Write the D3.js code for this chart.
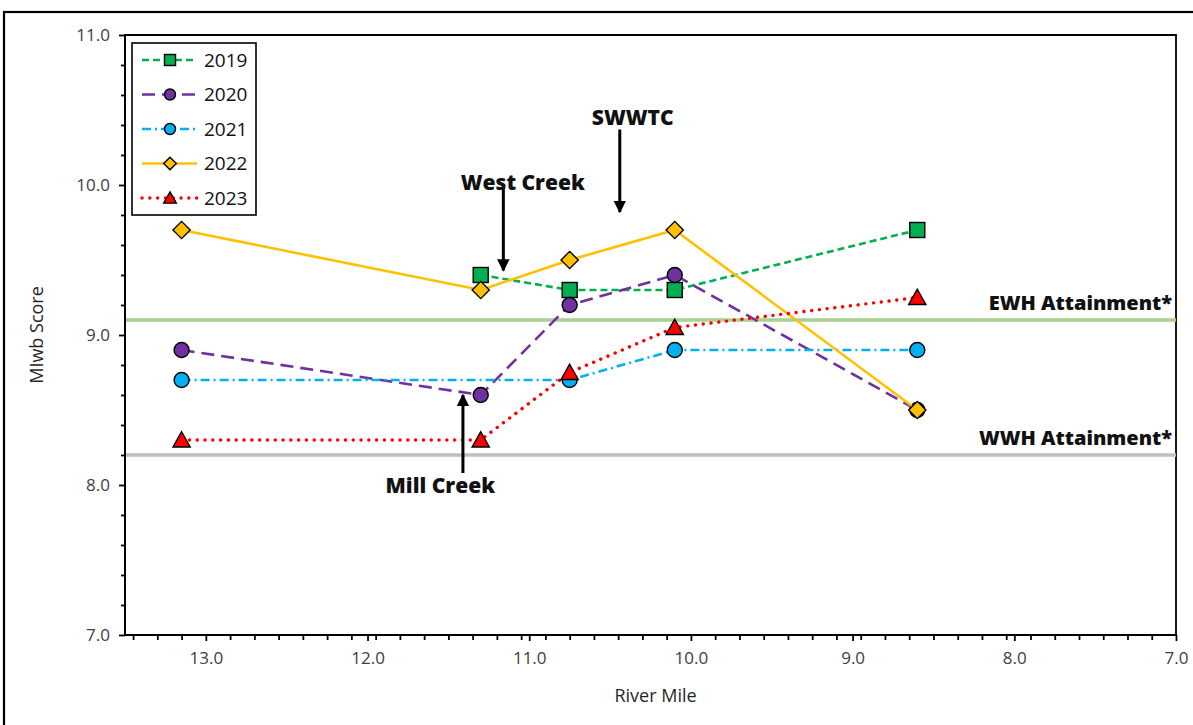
<!DOCTYPE html>
<html>
<head>
<meta charset="utf-8">
<script src="https://cdn.jsdelivr.net/npm/d3@7"></script>
<style>
  html, body { margin: 0; padding: 0; background: #fff; }
  svg { display: block; }
</style>
</head>
<body>
<svg id="chart" width="1193" height="725"></svg>
<script>
// Sampling locations (river mile) and MIwb scores by year
const riverMiles = [13.15, 11.3, 10.75, 10.1, 8.6];
const years = ["2019", "2020", "2021", "2022", "2023"];
const score2019 = [null, 9.4, 9.3, 9.3, 9.7];
const score2020 = [8.9, 8.6, 9.2, 9.4, 8.5];
const score2021 = [8.7, null, 8.7, 8.9, 8.9];
const score2022 = [9.7, 9.3, 9.5, 9.7, 8.5];
const score2023 = [8.3, 8.3, 8.75, 9.05, 9.25];

// Axis ticks
const xTickValues = [13, 12, 11, 10, 9, 8, 7];
const yTickValues = [7, 8, 9, 10, 11];

// Attainment thresholds
const thresholdNames = ["EWH Attainment*", "WWH Attainment*"];
const thresholdValues = [9.1, 8.2];

// Site annotations: label, arrow river mile, arrow start/end scores
const siteNames = ["West Creek", "SWWTC", "Mill Creek"];
const siteMiles = [11.16, 10.44, 11.41];
const siteArrowFrom = [9.99, 10.37, 8.08];
const siteArrowTo = [9.43, 9.82, 8.6];
const siteLabelMiles = [11.04, 10.36, 11.55];
const siteLabelScores = [9.97, 10.4, 7.95];

const seriesScores = [score2019, score2020, score2021, score2022, score2023];

const style = {
  "2019": { color: "#00b050", dash: "7 4", width: 2.6, cap: "butt", marker: "square" },
  "2020": { color: "#7030a0", dash: "13 7", width: 2.6, cap: "butt", marker: "circle" },
  "2021": { color: "#00b0f0", dash: "9 4 2 4", width: 2.6, cap: "butt", marker: "circle" },
  "2022": { color: "#ffc000", dash: null, width: 2.6, cap: "butt", marker: "diamond" },
  "2023": { color: "#ff0000", dash: "0.1 7.7", width: 3.4, cap: "round", marker: "triangle" }
};

const svg = d3.select("#chart");
const tickFont = "'Open Sans', 'Noto Sans', sans-serif";

// outer frame
svg.append("rect")
  .attr("x", 4).attr("y", 12)
  .attr("width", 1200).attr("height", 730)
  .attr("fill", "#fff").attr("stroke", "#000").attr("stroke-width", 2.2);

const plot = { left: 125, top: 35, right: 1176, bottom: 635 };

const x = d3.scaleLinear().domain([13.5, 7]).range([plot.left, plot.right]);
const y = d3.scaleLinear().domain([7, 11]).range([plot.bottom, plot.top]);

// plot area border (top & right)
svg.append("path")
  .attr("d", `M${plot.left},${plot.top}H${plot.right}V${plot.bottom}`)
  .attr("fill", "none").attr("stroke", "#000").attr("stroke-width", 1.8);

// threshold lines
const thrColors = ["#a9d08e", "#bfbfbf"];
thresholdValues.forEach((v, i) => {
  svg.append("line")
    .attr("x1", plot.left).attr("x2", plot.right)
    .attr("y1", y(v)).attr("y2", y(v))
    .attr("stroke", thrColors[i]).attr("stroke-width", 3.5);
  svg.append("text")
    .attr("x", plot.right - 4).attr("y", y(v) - 10)
    .attr("text-anchor", "end")
    .attr("font-family", tickFont).attr("font-weight", 800)
    .attr("font-size", 20).attr("fill", "#111")
    .text(thresholdNames[i]);
});

// x axis with minor ticks every 0.15
const xMinor = d3.range(0, 44).map(k => 7 + 0.15 * k).filter(v => !xTickValues.some(t => Math.abs(t - v) < 1e-6));
const xAxisG = svg.append("g").attr("transform", `translate(0,${plot.bottom})`);
xAxisG.call(d3.axisBottom(x).tickValues(xMinor).tickSize(5).tickFormat(""))
  .call(g => g.select(".domain").remove());
const xMajorG = svg.append("g").attr("transform", `translate(0,${plot.bottom})`);
xMajorG.call(d3.axisBottom(x).tickValues(xTickValues).tickSize(6).tickPadding(11).tickFormat(d3.format(".1f")))
  .call(g => g.select(".domain").remove());
[xAxisG, xMajorG].forEach(g => g.selectAll("line").attr("stroke", "#000").attr("stroke-width", 1.8));
xMajorG.selectAll("text").attr("font-family", tickFont).attr("font-size", 17).attr("fill", "#404040");
svg.append("line")
  .attr("x1", plot.left - 1).attr("x2", plot.right + 1)
  .attr("y1", plot.bottom).attr("y2", plot.bottom)
  .attr("stroke", "#000").attr("stroke-width", 2);

// y axis with minor ticks every 0.2
const yMinor = d3.range(0, 21).map(k => 7 + 0.2 * k).filter(v => !yTickValues.some(t => Math.abs(t - v) < 1e-6));
const yMinorG = svg.append("g").attr("transform", `translate(${plot.left},0)`);
yMinorG.call(d3.axisLeft(y).tickValues(yMinor).tickSize(4).tickFormat(""))
  .call(g => g.select(".domain").remove());
const yMajorG = svg.append("g").attr("transform", `translate(${plot.left},0)`);
yMajorG.call(d3.axisLeft(y).tickValues(yTickValues).tickSize(6).tickPadding(9).tickFormat(d3.format(".1f")))
  .call(g => g.select(".domain").remove());
[yMinorG, yMajorG].forEach(g => g.selectAll("line").attr("stroke", "#000").attr("stroke-width", 1.8));
yMajorG.selectAll("text").attr("font-family", tickFont).attr("font-size", 17).attr("fill", "#404040");
svg.append("line")
  .attr("x1", plot.left).attr("x2", plot.left)
  .attr("y1", plot.top - 1).attr("y2", plot.bottom + 1)
  .attr("stroke", "#000").attr("stroke-width", 2);

// axis titles
svg.append("text")
  .attr("x", (plot.left + plot.right) / 2 + 5).attr("y", 702)
  .attr("text-anchor", "middle")
  .attr("font-family", tickFont).attr("font-size", 18).attr("fill", "#262626")
  .text("River Mile");
svg.append("text")
  .attr("transform", `translate(43,${(plot.top + plot.bottom) / 2}) rotate(-90)`)
  .attr("text-anchor", "middle")
  .attr("font-family", tickFont).attr("font-size", 18).attr("fill", "#262626")
  .text("MIwb Score");

// marker drawing
function drawMarker(g, type, cx, cy, color, s) {
  if (type === "square") {
    g.append("rect").attr("x", cx - s).attr("y", cy - s)
      .attr("width", 2 * s).attr("height", 2 * s)
      .attr("fill", color).attr("stroke", "#000").attr("stroke-width", 1.4);
  } else if (type === "circle") {
    g.append("circle").attr("cx", cx).attr("cy", cy).attr("r", s)
      .attr("fill", color).attr("stroke", "#000").attr("stroke-width", 1.4);
  } else if (type === "diamond") {
    const d = s * 1.15;
    g.append("path").attr("d", `M${cx},${cy - d}L${cx + d},${cy}L${cx},${cy + d}L${cx - d},${cy}Z`)
      .attr("fill", color).attr("stroke", "#000").attr("stroke-width", 1.4);
  } else if (type === "triangle") {
    const h = s * 1.1;
    g.append("path").attr("d", `M${cx},${cy - h}L${cx + s * 1.15},${cy + h * 0.85}L${cx - s * 1.15},${cy + h * 0.85}Z`)
      .attr("fill", color).attr("stroke", "#000").attr("stroke-width", 1.4)
      .attr("stroke-linejoin", "miter");
  }
}

// series
const line = d3.line()
  .defined(d => d.v !== null)
  .x(d => x(d.m)).y(d => y(d.v));

years.forEach((yr, i) => {
  const st = style[yr];
  const pts = riverMiles.map((m, j) => ({ m, v: seriesScores[i][j] })).filter(d => d.v !== null);
  const g = svg.append("g").attr("class", "series-" + yr);
  g.append("path")
    .datum(pts)
    .attr("d", line)
    .attr("fill", "none")
    .attr("stroke", st.color)
    .attr("stroke-width", st.width)
    .attr("stroke-linecap", st.cap)
    .attr("stroke-dasharray", st.dash);
  pts.forEach(d => drawMarker(g, st.marker, x(d.m), y(d.v), st.color, 7.5));
});

// site arrows and labels
svg.append("defs").append("marker")
  .attr("id", "arrowhead")
  .attr("viewBox", "0 0 10 10").attr("refX", 9).attr("refY", 5)
  .attr("markerWidth", 4.2).attr("markerHeight", 4.2)
  .attr("markerUnits", "strokeWidth")
  .attr("orient", "auto")
  .append("path").attr("d", "M0,0L10,5L0,10Z").attr("fill", "#000");

siteNames.forEach((name, i) => {
  svg.append("line")
    .attr("x1", x(siteMiles[i])).attr("x2", x(siteMiles[i]))
    .attr("y1", y(siteArrowFrom[i])).attr("y2", y(siteArrowTo[i]))
    .attr("stroke", "#000").attr("stroke-width", 3)
    .attr("marker-end", "url(#arrowhead)");
  svg.append("text")
    .attr("x", x(siteLabelMiles[i])).attr("y", y(siteLabelScores[i]))
    .attr("text-anchor", "middle")
    .attr("font-family", tickFont).attr("font-weight", 800)
    .attr("font-size", 21).attr("fill", "#111")
    .text(name);
});

// legend
const legend = svg.append("g").attr("transform", "translate(132,43)");
legend.append("rect").attr("x", 0).attr("y", 0).attr("width", 124).attr("height", 172)
  .attr("fill", "#fff").attr("stroke", "#000").attr("stroke-width", 1.6);
years.forEach((yr, i) => {
  const st = style[yr];
  const cy = 17 + i * 34.5;
  legend.append("line")
    .attr("x1", 10).attr("x2", 65).attr("y1", cy).attr("y2", cy)
    .attr("stroke", st.color).attr("stroke-width", st.width)
    .attr("stroke-linecap", st.cap).attr("stroke-dasharray", st.dash);
  drawMarker(legend, st.marker, 38, cy, st.color, 5.5);
  legend.append("text")
    .attr("x", 72).attr("y", cy).attr("dy", "0.35em")
    .attr("font-family", tickFont).attr("font-size", 19).attr("fill", "#111")
    .text(yr);
});
</script>
</body>
</html>
